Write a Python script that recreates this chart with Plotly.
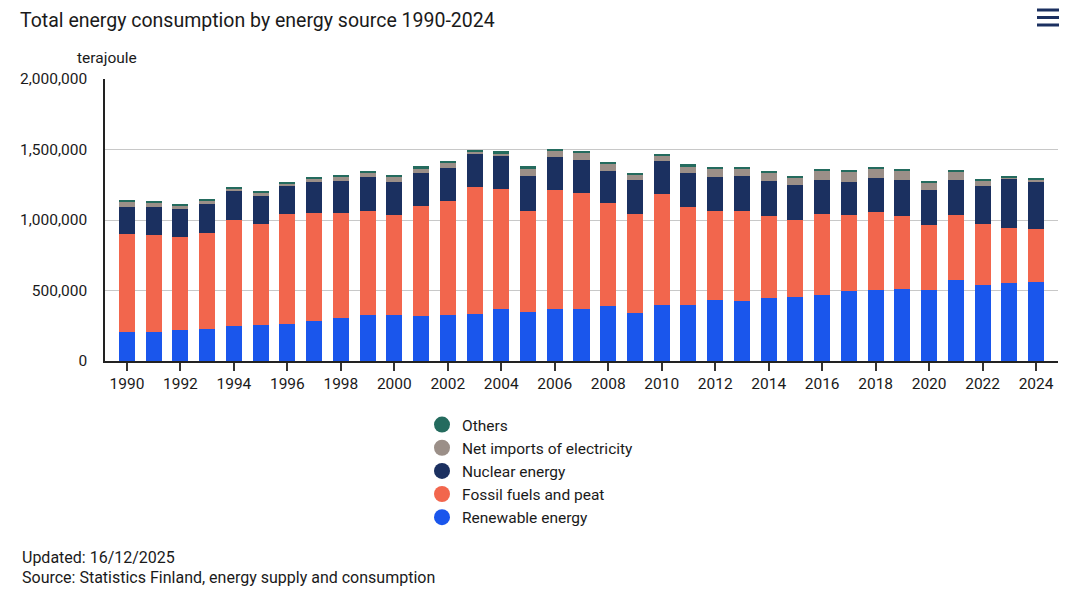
import plotly.graph_objects as go

years = list(range(1990, 2025))
renewable = [205000, 205000, 219000, 226000, 248000, 255000, 262000, 283000, 304000, 325000,
             325000, 318000, 325000, 333000, 368000, 347000, 368000, 368000, 389000, 340000,
             396000, 396000, 432000, 425000, 446000, 453000, 467000, 495000, 502000, 509000,
             502000, 573000, 538000, 552000, 559000]
fossil = [694000, 687000, 658000, 680000, 750000, 714000, 778000, 764000, 743000, 736000,
          708000, 779000, 807000, 898000, 849000, 714000, 842000, 821000, 729000, 700000,
          786000, 694000, 629000, 636000, 580000, 545000, 573000, 538000, 552000, 517000,
          460000, 460000, 431000, 389000, 375000]
nuclear = [191000, 198000, 198000, 205000, 205000, 198000, 205000, 220000, 227000, 241000,
           234000, 233000, 234000, 234000, 241000, 248000, 240000, 240000, 233000, 241000,
           240000, 240000, 241000, 248000, 248000, 247000, 241000, 234000, 241000, 255000,
           248000, 248000, 269000, 354000, 340000]
net_imports = [42000, 33000, 29000, 28000, 21000, 29000, 14000, 28000, 35000, 35000,
               42000, 36000, 42000, 21000, 14000, 57000, 43000, 50000, 50000, 42000,
               36000, 50000, 64000, 57000, 63000, 57000, 70000, 77000, 71000, 70000,
               57000, 63000, 43000, 7000, 14000]
others = [7000, 5000, 7000, 7000, 7000, 7000, 8000, 7000, 7000, 7000,
          7000, 14000, 7000, 7000, 14000, 14000, 7000, 7000, 7000, 7000,
          7000, 14000, 7000, 7000, 7000, 7000, 7000, 7000, 7000, 7000,
          7000, 14000, 7000, 7000, 7000]

series_names = ["Renewable energy", "Fossil fuels and peat", "Nuclear energy",
                "Net imports of electricity", "Others"]
series_values = [renewable, fossil, nuclear, net_imports, others]
colors = ["#1a56ec", "#f2664d", "#1b3060", "#9b8f88", "#246b5e"]

y_ticks = [0, 500000, 1000000, 1500000, 2000000]
y_ticktext = ["0", "500,000", "1,000,000", "1,500,000", "2,000,000"]

FONT = "Roboto, 'Noto Sans', sans-serif"
TXT = "#1a1a1a"

fig = go.Figure()
for name, vals, col in zip(series_names, series_values, colors):
    fig.add_trace(go.Bar(x=years, y=vals, name=name, marker=dict(color=col, line=dict(width=0)),
                         width=0.6, showlegend=False))
for name, col in zip(series_names, colors):
    fig.add_trace(go.Scatter(x=[None], y=[None], mode="markers", name=name,
                             marker=dict(color=col, size=16, symbol="circle"), showlegend=True))

L, R, T, B = 105, 10, 79, 240
W, H = 1068, 601
pw = W - L - R
ph = H - T - B

def px(xp):
    return (xp - L) / pw

def py(yp):
    return (H - B - yp) / ph

fig.update_layout(
    width=W, height=H,
    margin=dict(l=L, r=R, t=T, b=B, pad=0),
    paper_bgcolor="white", plot_bgcolor="white",
    barmode="stack",
    font=dict(family=FONT, size=15, color=TXT),
    title=dict(text="Total energy consumption by energy source 1990-2024",
               x=20 / W, xref="container", xanchor="left",
               y=1 - 20 / H, yref="container", yanchor="middle",
               font=dict(family=FONT, size=19.5, color=TXT)),
    xaxis=dict(range=[1989.18, 2024.82], tickmode="linear", tick0=1990, dtick=2,
               showline=True, linecolor="#222222", linewidth=1.5,
               ticks="outside", ticklen=8, tickcolor="#333333", tickwidth=1.5,
               showgrid=False, zeroline=False,
               tickfont=dict(family=FONT, size=15.5, color=TXT)),
    yaxis=dict(range=[0, 2000000], tickmode="array", tickvals=y_ticks, ticktext=y_ticktext,
               showline=True, linecolor="#222222", linewidth=1.5,
               showgrid=True, gridcolor="#c8c8c8", gridwidth=1.2,
               zeroline=False, ticks="", ticklabelstandoff=13,
               tickfont=dict(family=FONT, size=15.5, color=TXT)),
    legend=dict(x=px(422), y=py(408), xanchor="left", yanchor="top",
                traceorder="reversed", bgcolor="rgba(0,0,0,0)",
                font=dict(family=FONT, size=15.5, color=TXT),
                itemwidth=30, tracegroupgap=0),
    hovermode=False,
)

fig.add_annotation(text="terajoule", xref="paper", yref="paper", x=px(75), y=py(58),
                   xanchor="left", yanchor="middle", showarrow=False,
                   font=dict(family=FONT, size=15.5, color=TXT))
fig.add_annotation(text="Updated: 16/12/2025", xref="paper", yref="paper", x=px(20), y=py(557),
                   xanchor="left", yanchor="middle", showarrow=False,
                   font=dict(family=FONT, size=16, color=TXT))
fig.add_annotation(text="Source: Statistics Finland, energy supply and consumption",
                   xref="paper", yref="paper", x=px(20), y=py(577),
                   xanchor="left", yanchor="middle", showarrow=False,
                   font=dict(family=FONT, size=16, color=TXT))

for yy in [10, 17.5, 25]:
    fig.add_shape(type="line", xref="paper", yref="paper",
                  x0=px(1037), x1=px(1059), y0=py(yy), y1=py(yy),
                  line=dict(color="#1b3060", width=3))

fig.write_html("out.html")
